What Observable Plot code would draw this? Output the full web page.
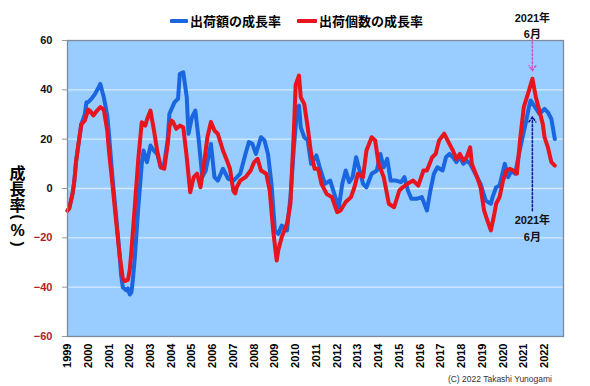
<!DOCTYPE html>
<html><head><meta charset="utf-8">
<script src="https://cdn.jsdelivr.net/npm/d3@7"></script>
<script src="https://cdn.jsdelivr.net/npm/@observablehq/plot@0.6"></script>
<style>
body{margin:0;background:#fff;font-family:"Liberation Sans","Noto Sans CJK JP",sans-serif;}
#wrap{width:590px;height:386px;position:relative;overflow:hidden;}
#legend{height:30px;box-sizing:border-box;padding-top:12px;padding-left:170px;display:flex;align-items:center;font-family:"Noto Sans CJK JP",sans-serif;font-weight:bold;font-size:13px;line-height:18px;color:#000;}
.sw{display:inline-block;height:4px;border-radius:1px;margin-right:2px;}
#caption{height:13px;line-height:13px;text-align:right;padding-right:38px;font-size:8.5px;color:#333;}
</style></head>
<body><div id="wrap">
<div id="legend"></div>
<div id="chart"></div>
<div id="caption"></div>
</div>
<script>
// series names
const seriesNames = ["出荷額の成長率", "出荷個数の成長率"];
// months since Jan 1999 and growth values (%)
const blueMonths = [0,1,3,4,5,6,8,10,11,12,14,16,18,19,21,23,24,26,28,30,31,32,34,35,36,37,38,39,41,43,44,46,48,50,52,54,56,58,59,62,64,65,67,69,70,72,74,76,78,80,83,85,87,90,93,96,98,100,103,105,107,109,112,114,116,118,120,122,124,127,129,131,133,134,135,137,139,141,144,146,149,152,155,157,159,161,163,165,167,169,171,173,176,179,181,183,185,187,190,193,195,197,199,202,205,208,210,212,214,217,219,221,223,225,227,229,231,233,236,239,242,245,246,248,250,253,255,257,259,262,265,267,268,270,273,274,276,278,280,282];
const blueValues = [-9,-8,-2,3,11,16,26,30,35,35,36.4,38.4,41,42.4,37,29.6,22,5,-10,-25,-35,-40,-41.3,-40.5,-43,-42,-36,-27.8,-7.6,10,15.4,10.7,17.4,15.4,14,8.6,10,20,30.3,35,36.4,46.5,47.1,37,22.2,28.9,31.6,19.5,4.6,7.3,18.1,4.6,3.2,8,3.9,3.2,4.5,6,14,18.8,18.1,14,20.8,19.5,14,1.9,-17,-18.4,-15,-17,-3.5,16.7,33,33.6,24.8,20.8,19.5,10,13.4,8.6,1.9,3.2,-3.5,-7.6,1.9,7.3,2.6,4.6,12.7,7.3,1.9,0.5,6,7.3,14,8.6,12,3.2,3.2,2.6,4.6,-0.8,-4.2,-4.2,-3.5,-8.9,-0.8,6,8.6,7.3,12.7,14,12.7,10.7,12.7,10,11.3,10,6,1.9,-4.9,-6.2,-3.5,0.5,1.2,10,4.6,7.3,6,16.7,26.2,33,35.7,33.6,30.3,30.9,32.3,30.9,28.2,20.1];
const redMonths = [0,1,3,4,5,6,8,10,12,13,15,17,19,21,23,24,26,28,30,32,33,35,36,37,39,41,43,45,46,48,50,52,54,56,58,59,60,61,63,65,67,69,71,73,75,77,79,81,83,85,87,90,93,94,96,97,98,100,103,106,108,110,112,115,117,119,121,122,124,127,129,131,132,134,135,137,139,141,143,145,147,150,153,156,158,161,164,166,168,171,173,176,178,180,183,186,189,192,194,197,200,203,206,208,211,213,215,218,221,223,225,227,229,231,233,234,237,239,241,243,245,247,248,250,252,254,256,258,260,262,264,267,269,271,273,275,276,278,280,282];
const redValues = [-9,-8,-2,3,11,16,26,27.5,32,31.5,29.6,31.5,33,32,23.5,15,2,-12,-26,-36.5,-37.5,-37,-33,-25,-7,12,26.9,25.5,28,31.6,24,15,8.6,8,18,25,27.6,27,24.2,25.5,24.8,12.7,-1.5,4.6,6,0.5,10,21,27,23.5,22.2,15.4,10,8,-1,-2,0.5,3.2,4.6,7.3,10.7,12,7.3,6,-0.8,-17,-29.2,-25,-19.7,-14.3,-6.2,23.5,42,45.8,37,34.3,24.8,14,8,8,1.9,-2.2,-3.5,-9.6,-8.9,-5.5,-3.5,0.5,6,4.6,15.4,20.8,19.5,10,4.6,-6.2,-7.6,-0.8,0.5,2,3.2,1.2,7.3,7.3,12.7,14,19.5,22.2,18.1,15.4,12,14,11.3,12.7,16.7,10,4.6,0.5,-8.9,-13,-17,-10.3,-6.2,-3.5,3.2,7.3,8,7.3,6,20.8,33,39.7,44.5,37,31.6,26.2,20.8,16.7,10.7,9.3];
const yearTicks = d3.range(1999, 2023);
const yTicksPos = [0, 20, 40, 60];
const yTicksNeg = [-60, -40, -20];
const gridValues = [-40, -20, 0, 20, 40];
const yTitle = "成長率";
const noteLabel = ["2021年", "6月"];

const BLUE = "#1a66e0", RED = "#e8141e";
const toDate = m => new Date(Date.UTC(1999, m, 1));
const blue = blueMonths.map((m, i) => ({date: toDate(m), value: blueValues[i]}));
const red = redMonths.map((m, i) => ({date: toDate(m), value: redValues[i]}));
const note = [{date: new Date(Date.UTC(2021, 5, 1))}];
const font = '"Liberation Sans","Noto Sans CJK JP",sans-serif';

// legend
const lg = document.getElementById("legend");
lg.innerHTML = `<span class="sw" style="width:18px;background:${BLUE}"></span><span>${seriesNames[0]}</span>` +
  `<span class="sw" style="width:20px;background:${RED};margin-left:16px"></span><span>${seriesNames[1]}</span>`;
document.getElementById("caption").textContent = "(C) 2022 Takashi Yunogami";

const titleStyle = {frameAnchor: "left", textAnchor: "middle", dx: -50, fontWeight: "bold", fontFamily: font};

const chart = Plot.plot({
  width: 590, height: 343,
  marginTop: 10, marginBottom: 37, marginLeft: 67, marginRight: 27,
  style: {overflow: "visible", fontFamily: font, background: "transparent"},
  x: {type: "utc", domain: [toDate(0), toDate(287)], label: null},
  y: {domain: [-60, 60], label: null},
  marks: [
    Plot.frame({fill: "#99ccff"}),
    Plot.ruleY(gridValues, {stroke: "#d6eafc", strokeWidth: 1.3}),
    Plot.line(blue, {x: "date", y: "value", stroke: BLUE, strokeWidth: 4, strokeLinejoin: "round", strokeLinecap: "round"}),
    Plot.line(red, {x: "date", y: "value", stroke: RED, strokeWidth: 4, strokeLinejoin: "round", strokeLinecap: "round"}),
    Plot.frame({stroke: "#7d8a99", strokeWidth: 1.3}),
    Plot.axisY({ticks: yTicksPos, tickSize: 5, tickPadding: 10, stroke: "#999", fill: "#111", fontSize: 11, fontWeight: "bold"}),
    Plot.axisY({ticks: yTicksNeg, tickSize: 5, tickPadding: 10, stroke: "#999", fill: "#b22222", fontSize: 11, fontWeight: "bold"}),
    Plot.axisX({ticks: yearTicks.map(y => new Date(Date.UTC(y, 0, 1))), tickFormat: d3.utcFormat("%Y"), tickRotate: -90, tickSize: 0, tickPadding: 7, fontSize: 11, fontWeight: "bold", fill: "#000"}),
    // y title (vertical)
    Plot.text([yTitle], {...titleStyle, fontFamily: '"Noto Sans CJK JP"', fontSize: 16, dy: -5}),
    Plot.text(["("], {...titleStyle, dy: 28.5, rotate: 90, fontSize: 15}),
    Plot.text(["%"], {...titleStyle, dy: 42, fontSize: 16}),
    Plot.text([")"], {...titleStyle, dy: 55.5, rotate: 90, fontSize: 15}),
    // annotations
    Plot.arrow(note, {x1: "date", x2: "date", y1: () => 64.4, y2: () => 47.8, stroke: "#cc55cc", strokeWidth: 1.5, strokeDasharray: "2,2", headLength: 6, headAngle: 70}),
    Plot.arrow(note, {x1: "date", x2: "date", y1: () => -9, y2: () => 29, stroke: "#10108a", strokeWidth: 1.5, strokeDasharray: "2,2", headLength: 6, headAngle: 70}),
    Plot.text(note, {x: "date", y: () => 68.9, text: () => noteLabel[0], fontSize: 11, fontWeight: "bold", fill: "#111"}),
    Plot.text(note, {x: "date", y: () => 62.4, text: () => noteLabel[1], fontSize: 11, fontWeight: "bold", fill: "#111"}),
    Plot.text(note, {x: "date", y: () => -13, text: () => noteLabel[0], fontSize: 11, fontWeight: "bold", fill: "#111"}),
    Plot.text(note, {x: "date", y: () => -19.9, text: () => noteLabel[1], fontSize: 11, fontWeight: "bold", fill: "#111"})
  ]
});
// make the y title vertical
chart.querySelectorAll("text").forEach(t => {
  if (t.textContent === yTitle) {
    t.setAttribute("dy", "0");
    t.setAttribute("writing-mode", "tb");
    t.style.writingMode = "vertical-rl";
    t.style.textOrientation = "upright";
  }
});
document.getElementById("chart").appendChild(chart);
</script>
</body></html>
